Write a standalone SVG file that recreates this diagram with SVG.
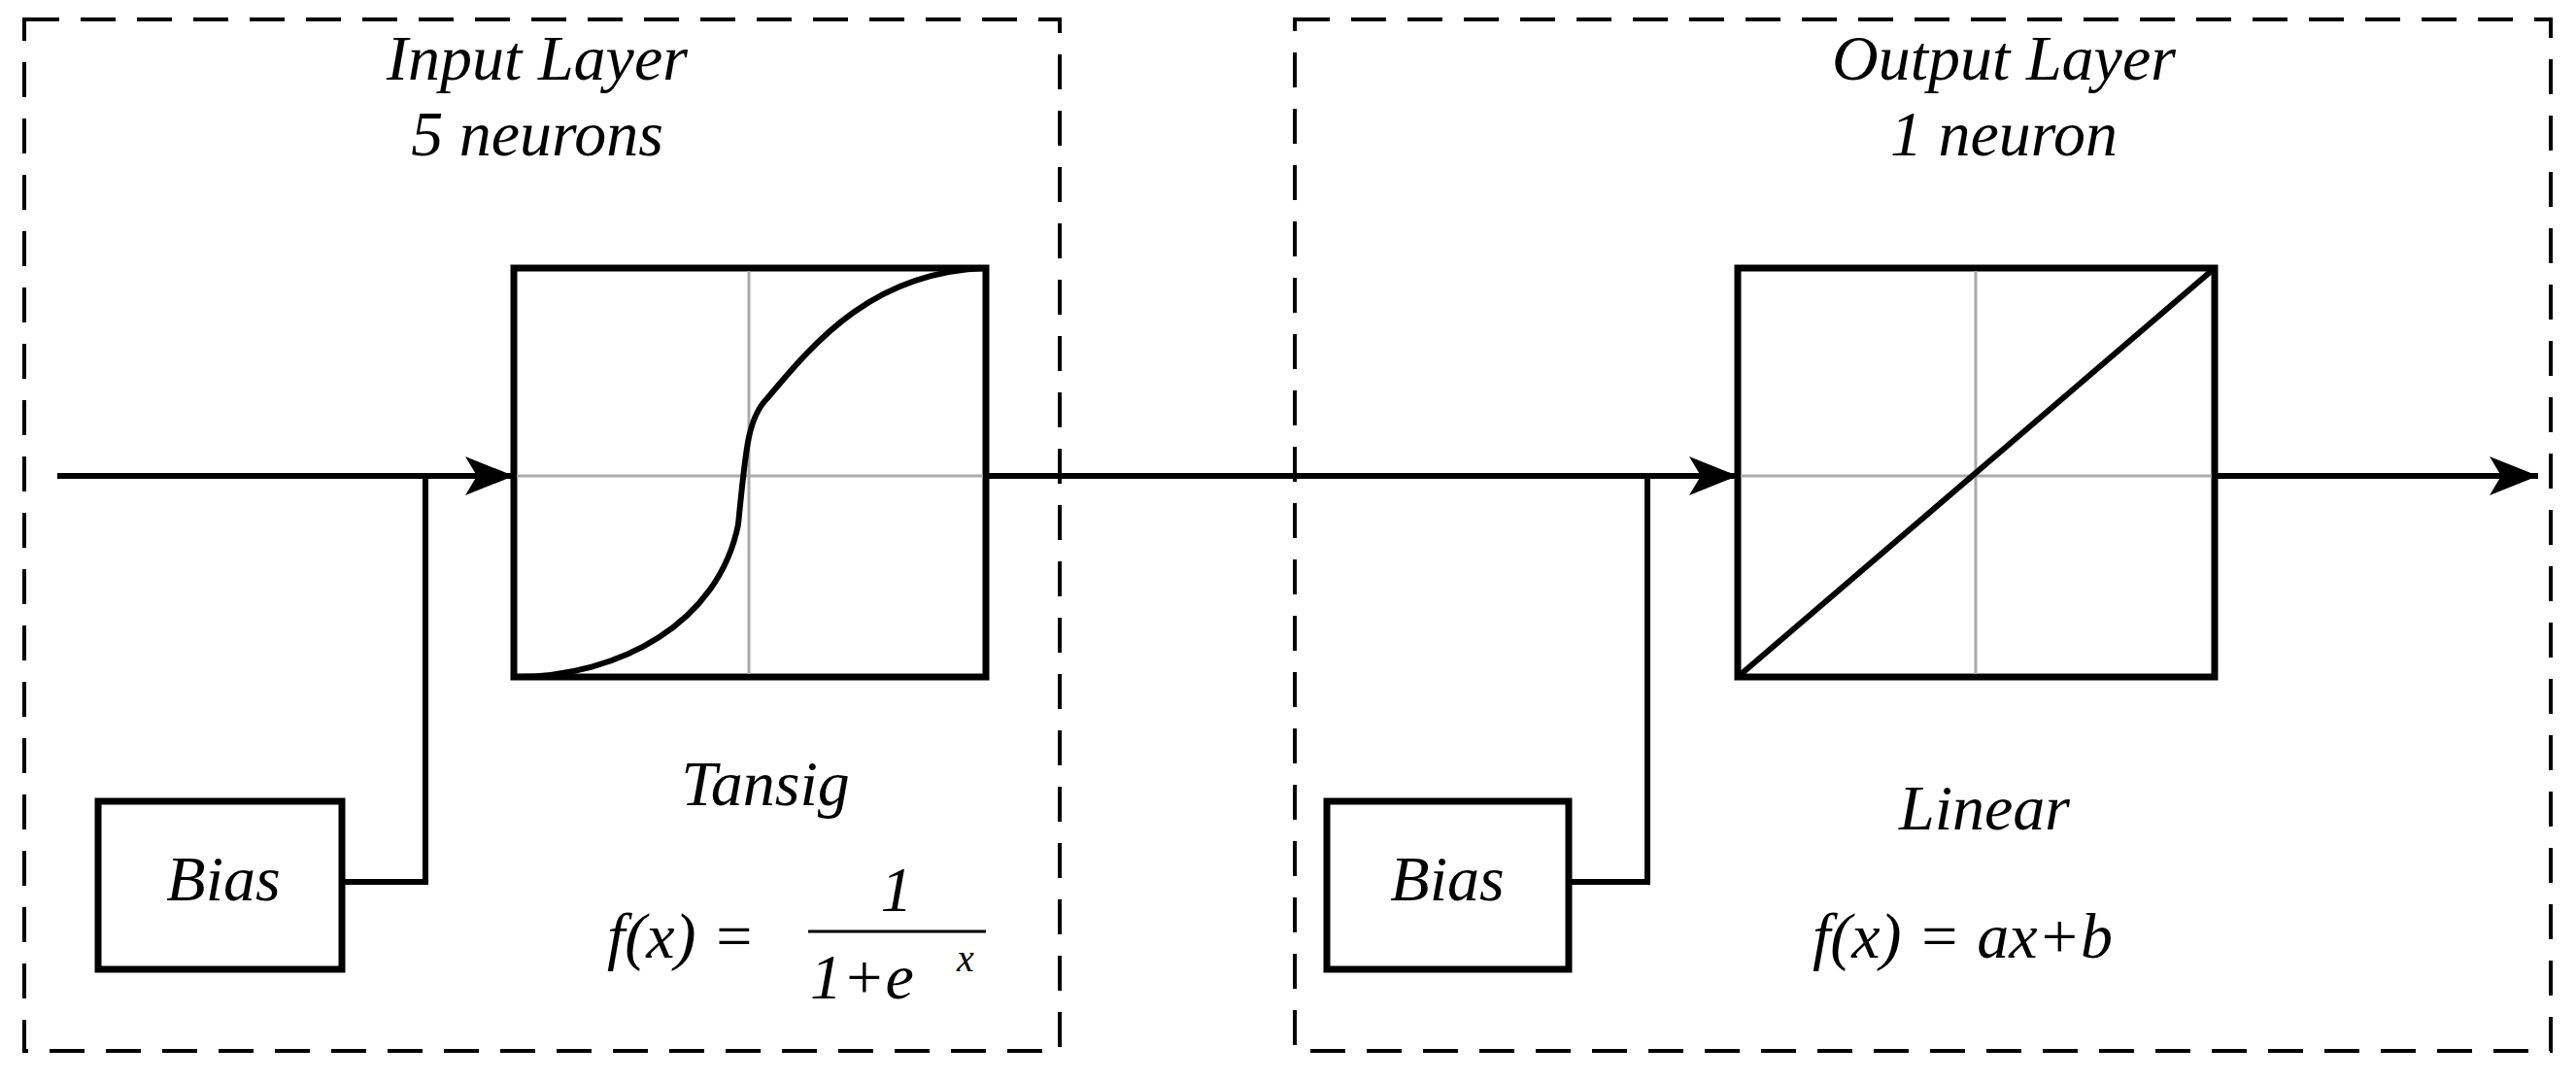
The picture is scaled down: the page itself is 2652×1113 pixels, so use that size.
<svg xmlns="http://www.w3.org/2000/svg" width="2652" height="1113" viewBox="0 0 2652 1113">
<style>
.t{font-family:"Liberation Serif",serif;font-style:italic;font-size:66px;fill:#000}
.dash{fill:none;stroke:#000;stroke-width:4;stroke-dasharray:36 22}
.box{fill:#fff;stroke:#000;stroke-width:7}
.ax{stroke:#aaa;stroke-width:3}
.ln{fill:none;stroke:#000;stroke-width:6}
</style>
<defs><marker id="ar" markerWidth="10" markerHeight="8" refX="10" refY="4" orient="auto" markerUnits="userSpaceOnUse" viewBox="0 0 10 8"><path d="M0,0 L10,4 L0,8 L3,4 Z" fill="#000"/></marker>
<marker id="a2" viewBox="0 0 50 40" refX="50" refY="20" markerWidth="50" markerHeight="40" orient="auto" markerUnits="userSpaceOnUse"><path d="M0,0 L50,20 L0,40 L12,20 Z" fill="#000"/></marker></defs>
<g id="inputLayer"><rect class="dash" x="25" y="20" width="1066" height="1062"/>
<text class="t" x="553" y="82" text-anchor="middle">Input Layer</text>
<text class="t" x="553" y="160" text-anchor="middle">5 neurons</text></g>
<g id="outputLayer"><rect class="dash" x="1333" y="20" width="1293" height="1062"/>
<text class="t" x="2063" y="82" text-anchor="middle">Output Layer</text>
<text class="t" x="2063" y="160" text-anchor="middle">1 neuron</text></g>
<g id="connectors">
<path class="ln" d="M59,490 H529" marker-end="url(#a2)"/>
<path class="ln" d="M352,908 H438 V490"/>
<path class="ln" d="M1015,490 H1789" marker-end="url(#a2)"/>
<path class="ln" d="M1615,908 H1696 V490"/>
<path class="ln" d="M2280,490 H2613" marker-end="url(#a2)"/>
</g>
<g id="tansig"><rect class="box" x="529" y="276" width="486" height="421"/>
<line class="ax" x1="771" y1="279" x2="771" y2="694"/><line class="ax" x1="532" y1="490" x2="1012" y2="490"/>
<path class="ln" d="M529,697 C640,697 740,640 760,540 C768,460 770,430 790,410 C840,350 900,280 1015,276"/>
<text class="t" x="788" y="829" text-anchor="middle">Tansig</text>
<text class="t" x="625" y="986">f(x) =</text>
<text class="t" x="923" y="938" text-anchor="middle">1</text>
<line x1="832" y1="959" x2="1015" y2="959" stroke="#000" stroke-width="3"/>
<text class="t" x="834" y="1028">1+e</text>
<text class="t" x="985" y="1000" style="font-size:40px">x</text></g>
<g id="linear"><rect class="box" x="1789" y="276" width="491" height="421"/>
<line class="ax" x1="2034" y1="279" x2="2034" y2="694"/><line class="ax" x1="1792" y1="490" x2="2277" y2="490"/>
<line class="ln" x1="1789" y1="697" x2="2280" y2="276"/>
<text class="t" x="2043" y="854" text-anchor="middle">Linear</text>
<text class="t" x="1866" y="986">f(x) =  ax+b</text></g>
<g id="bias1"><rect class="box" x="101" y="825" width="251" height="173"/><text class="t" x="230" y="927" text-anchor="middle">Bias</text></g>
<g id="bias2"><rect class="box" x="1366" y="825" width="249" height="173"/><text class="t" x="1490" y="927" text-anchor="middle">Bias</text></g>
</svg>
